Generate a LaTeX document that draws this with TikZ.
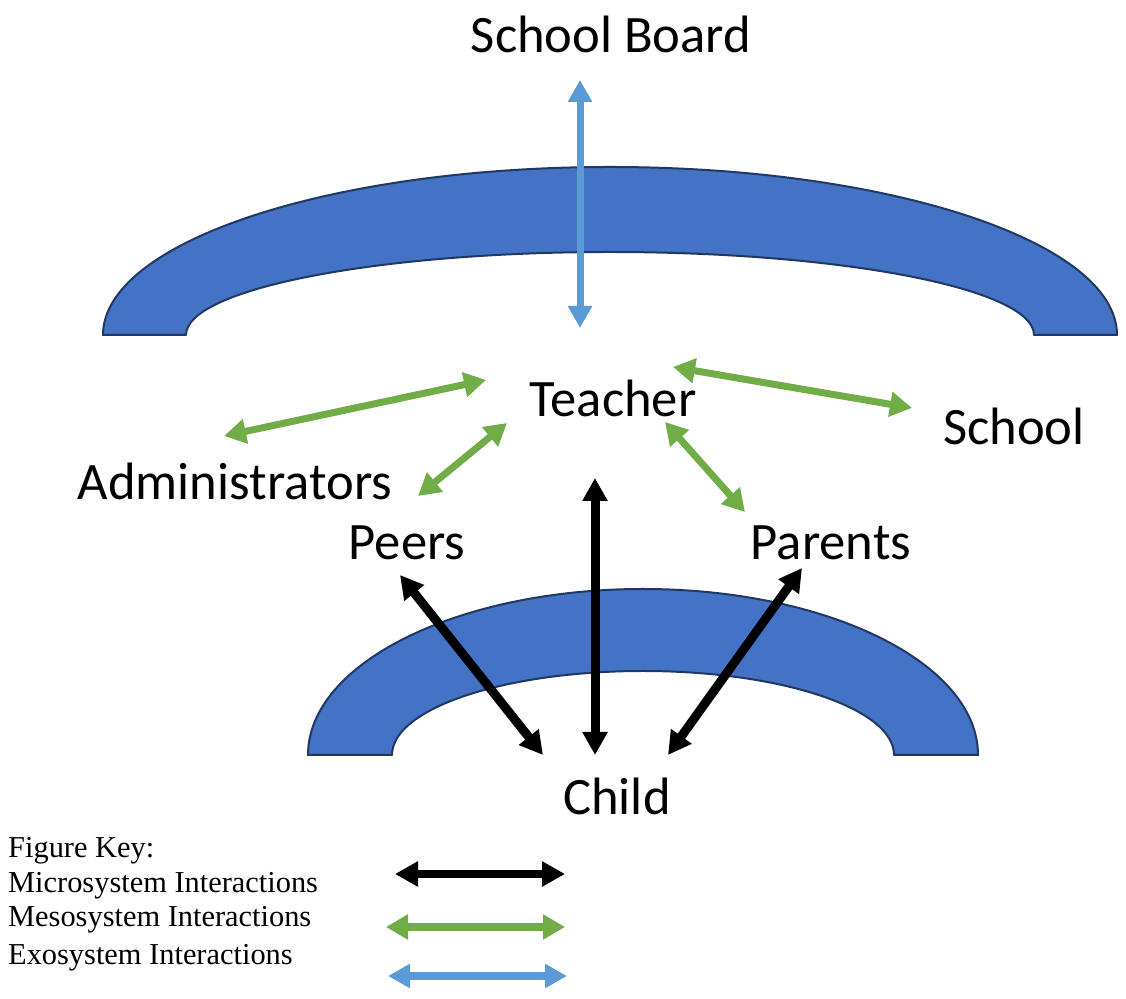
\documentclass[tikz,border=0pt]{standalone}
\usepackage{fontspec}
\setmainfont{Carlito}
\newfontfamily\keyfont{Liberation Serif}
\usetikzlibrary{arrows.meta}
\definecolor{arcfill}{HTML}{4472C4}
\definecolor{arcline}{HTML}{1F3864}
\definecolor{mesogreen}{HTML}{70AD47}
\definecolor{exoblue}{HTML}{5B9BD5}
\tikzset{
  lbl/.style={anchor=base,inner sep=0pt,font=\fontsize{52.6}{60}\selectfont},
  keytext/.style={anchor=base west,inner sep=0pt,font=\keyfont\fontsize{30.4}{34}\selectfont},
  ring/.style={fill=arcfill,draw=arcline,line width=2pt,line join=round},
  micro/.style={draw=black,line width=9pt,{Triangle[length=23pt,width=24pt]}-{Triangle[length=23pt,width=24pt]}},
  meso/.style={draw=mesogreen,line width=7pt,{Triangle[length=22pt,width=24pt]}-{Triangle[length=22pt,width=24pt]}},
  exo/.style={draw=exoblue,line width=7pt,{Triangle[length=22pt,width=23pt]}-{Triangle[length=22pt,width=23pt]}}
}
\begin{document}
\begin{tikzpicture}[x=1pt,y=1pt]
\useasboundingbox (0,0) rectangle (1126,998);
% rings
\draw[ring] (103,663) arc[start angle=180,end angle=0,x radius=507pt,y radius=168pt]
  -- (1034,663) arc[start angle=0,end angle=180,x radius=424pt,y radius=83pt] -- cycle;
\draw[ring] (308,243) arc[start angle=180,end angle=0,x radius=335pt,y radius=166pt]
  -- (894,243) arc[start angle=0,end angle=180,x radius=251pt,y radius=84pt] -- cycle;
% labels
\node[lbl] (board) at (611,945) {School Board};
\node[lbl] (teacher) at (613,581) {Teacher};
\node[lbl] (school) at (1014,553) {School};
\node[lbl] (admin) at (235,498) {Administrators};
\node[lbl] (peers) at (407,438) {Peers};
\node[lbl] (parents) at (831,438) {Parents};
\node[lbl] (child) at (617,183) {Child};
% arrow end points
\coordinate (bA) at (580,918); \coordinate (bB) at (580,670);
\coordinate (atA) at (224,562); \coordinate (atB) at (486,618);
\coordinate (ptA) at (418,502); \coordinate (ptB) at (507,575);
\coordinate (tsA) at (673,631); \coordinate (tsB) at (912,590);
\coordinate (tpA) at (665,576); \coordinate (tpB) at (745,486);
\coordinate (pcA) at (400,423); \coordinate (pcB) at (543,243);
\coordinate (tcA) at (595,520); \coordinate (tcB) at (595,243);
\coordinate (rcA) at (802,430); \coordinate (rcB) at (668,243);
% arrows
\draw[exo] (bA) -- (bB);
\draw[meso] (atA) -- (atB);
\draw[meso] (ptA) -- (ptB);
\draw[meso] (tsA) -- (tsB);
\draw[meso] (tpA) -- (tpB);
\draw[micro] (pcA) -- (pcB);
\draw[micro] (tcA) -- (tcB);
\draw[micro] (rcA) -- (rcB);
% key
\node[keytext] (k0) at (8,140) {Figure Key:};
\node[keytext] (k1) at (8,106) {Microsystem Interactions};
\node[keytext] (k2) at (8,71) {Mesosystem Interactions};
\node[keytext] (k3) at (8,34) {Exosystem Interactions};
\coordinate (kmA) at (395,124); \coordinate (kmB) at (565,124);
\coordinate (keA) at (386,71); \coordinate (keB) at (565,71);
\coordinate (kxA) at (388,22); \coordinate (kxB) at (567,22);
\draw[micro,line width=8pt] (kmA) -- (kmB);
\draw[meso,line width=8pt] (keA) -- (keB);
\draw[exo,line width=8pt] (kxA) -- (kxB);
\end{tikzpicture}
\end{document}
